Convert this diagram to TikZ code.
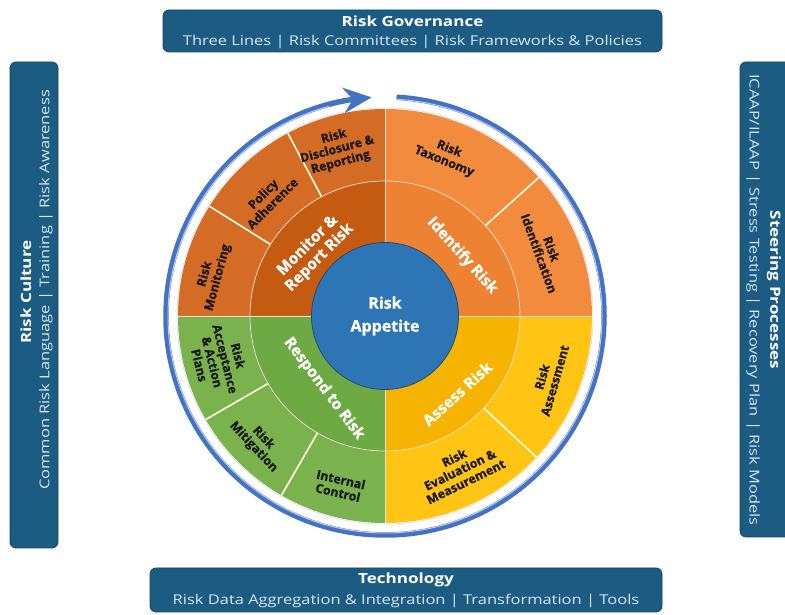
\documentclass[tikz,border=0pt]{standalone}
\usepackage{fontspec}
\setmainfont{Open Sans}[FakeStretch=1.22]
\newfontfamily\wheelfont{Open Sans}[BoldFeatures={FakeBold=0.8}]
\usetikzlibrary{arrows.meta,bending}

\definecolor{bannerblue}{HTML}{1D5C82}
\definecolor{bannerline}{HTML}{134563}
\definecolor{subtext}{HTML}{D3E8F4}
\definecolor{monitorin}{HTML}{C55A11}
\definecolor{monitorout}{HTML}{D46C26}
\definecolor{identifyin}{HTML}{EC8232}
\definecolor{identifyout}{HTML}{F28B3E}
\definecolor{assessin}{HTML}{F6B400}
\definecolor{assessout}{HTML}{FFC414}
\definecolor{respondin}{HTML}{6EAA44}
\definecolor{respondout}{HTML}{7AB34D}
\definecolor{appetite}{HTML}{2E75B6}
\definecolor{cycleblue}{HTML}{4472C4}

% one piece of a ring: colour, inner radius, outer radius, from, to
\newcommand{\ringpart}[5]{%
  \fill[#1] (#4:#2) arc[start angle=#4, end angle=#5, radius=#2]
    -- (#5:#3) arc[start angle=#5, end angle=#4, radius=#3] -- cycle;}

\tikzset{
  banner/.style={draw=bannerline, fill=bannerblue, rounded corners=6pt, line width=0.8pt},
  bannertitle/.style={text=white, font=\fontsize{14}{16}\selectfont\bfseries},
  bannersub/.style={text=subtext, font=\fontsize{13.5}{15}\selectfont},
  celltext/.style={align=center, text=black!90, inner sep=1pt, font=\wheelfont\fontsize{12.3}{13.3}\selectfont\bfseries},
  phasetext/.style={align=center, text=white, inner sep=1pt, font=\wheelfont\fontsize{15.5}{17}\selectfont\bfseries},
  divider/.style={draw=white!88!yellow, line width=1.6pt},
  seam/.style={draw=white!75!brown, line width=0.7pt}
}

\begin{document}
\begin{tikzpicture}[x=1pt, y=1pt]
  \useasboundingbox (0,0) rectangle (785,615);

  % frame banners
  \draw[banner] (163,563) rectangle (662,605);
  \node[bannertitle] (govtitle) at (412.5,594) {Risk Governance};
  \node[bannersub] (govsub) at (412.5,573) {Three Lines | Risk Committees | Risk Frameworks \& Policies};

  \draw[banner] (150,3) rectangle (662,47);
  \node[bannertitle] (techtitle) at (406,35) {Technology};
  \node[bannersub] (techsub) at (406,14) {Risk Data Aggregation \& Integration | Transformation | Tools};

  \draw[banner] (10,67) rectangle (58,553);
  \node[bannertitle, rotate=90] (culttitle) at (26,323) {Risk Culture};
  \node[bannersub, rotate=90] (cultsub) at (46,325) {Common Risk Language | Training | Risk Awareness};

  \draw[banner] (740,78) rectangle (800,553);
  \node[bannertitle, rotate=-90] (steertitle) at (774,325) {Steering Processes};
  \node[bannersub, rotate=-90] (steersub) at (753,315) {ICAAP/ILAAP | Stress Testing | Recovery Plan | Risk Models};

  \begin{scope}[shift={(385,299)}]
    % the four phases
    \ringpart{monitorin}{73}{135}{90}{180}
    \ringpart{monitorout}{135}{207}{90}{180}
    \ringpart{identifyin}{73}{135}{0}{90}
    \ringpart{identifyout}{135}{207}{0}{90}
    \ringpart{assessin}{73}{135}{-90}{0}
    \ringpart{assessout}{135}{207}{-90}{0}
    \ringpart{respondin}{73}{135}{180}{270}
    \ringpart{respondout}{135}{207}{180}{270}

    \draw[seam] (0,0) circle (135);
    \foreach \a in {0,90,180,270}
      \draw[seam] (\a:73) -- (\a:207);
    \foreach \a in {148,118,42,-43,210,240}
      \draw[divider] (\a:135) -- (\a:207);
    \draw[gray!25, line width=0.8pt] (0,0) circle (208);

    % cycle arrow
    \draw[cycleblue, line width=5.5pt, -{Stealth[length=28pt, width=25pt]}]
      (87:219) arc[start angle=87, end angle=-266.5, radius=219];
    \draw[cycleblue!35!white, line width=1pt]
      (87:217) arc[start angle=87, end angle=-255, radius=217];

    \node[circle, fill=appetite, draw=appetite!65!black, line width=0.8pt,
      minimum size=147pt, inner sep=0pt, phasetext, font=\wheelfont\fontsize{16}{23}\selectfont\bfseries] (appetite) at (0,0) {Risk\\Appetite};

    \node[phasetext, rotate=45] (monitor) at (138:96) {Monitor \&\\Report Risk};
    \node[phasetext, rotate=-48] (identify) at (38:98) {Identify Risk};
    \node[phasetext, rotate=42] (assess) at (-47:106) {Assess Risk};
    \node[phasetext, rotate=-53] (respond) at (230:95) {Respond to Risk};

    \node[celltext, rotate=75] (monitoring) at (167:178) {Risk\\Monitoring};
    \node[celltext, rotate=45] (adherence) at (135:166) {Policy\\Adherence};
    \node[celltext, rotate=15] (disclosure) at (106:173) {Risk\\Disclosure \&\\Reporting};
    \node[celltext, rotate=-22] (taxonomy) at (69:172) {Risk\\Taxonomy};
    \node[celltext, rotate=-70] (identification) at (22:173) {Risk\\Identification};
    \node[celltext, rotate=74] (assessment) at (-21:175) {Risk\\Assessment};
    \node[celltext, rotate=26] (evaluation) at (-64:171) {Risk\\Evaluation \&\\Measurement};
    \node[celltext, rotate=-76] (acceptance) at (195:172) {Risk\\Acceptance\\\& Action\\Plans};
    \node[celltext, rotate=-47] (mitigation) at (225:179) {Risk\\Mitigation};
    \node[celltext, rotate=-13] (control) at (255:176) {Internal\\Control};
  \end{scope}
\end{tikzpicture}
\end{document}
